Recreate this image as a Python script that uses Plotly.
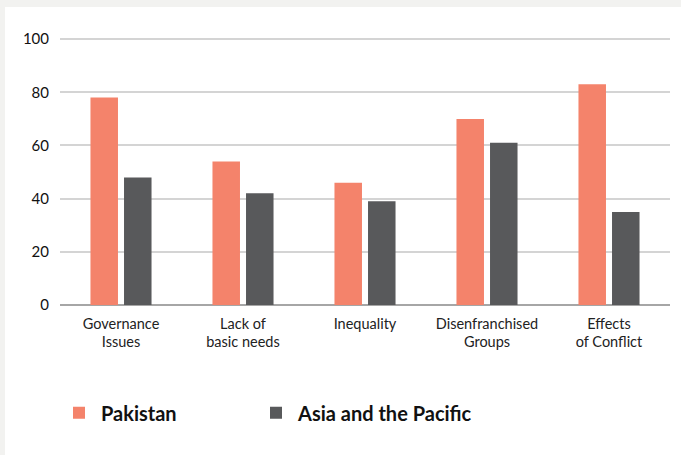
import plotly.graph_objects as go

categories = ["Governance<br>Issues", "Lack of<br>basic needs", "Inequality",
              "Disenfranchised<br>Groups", "Effects<br>of Conflict"]
pakistan = [78, 54, 46, 70, 83]
asia_pacific = [48, 42, 39, 61, 35]
y_ticks = [0, 20, 40, 60, 80, 100]

W, H = 681, 455
L, R, T, B = 60, 11, 37, 150
pw, ph = W - L - R, H - T - B

legend_font = dict(size=20, color="#111111", family="Lato, Noto Sans, sans-serif", weight="bold")

fig = go.Figure()
fig.add_trace(go.Bar(name="Pakistan", x=categories, y=pakistan, legend="legend",
                     marker=dict(color="#f4836b", line=dict(width=0))))
fig.add_trace(go.Bar(name="Asia and the Pacific", x=categories, y=asia_pacific, legend="legend2",
                     marker=dict(color="#58595b", line=dict(width=0))))

# light grey frame strips (top and left)
fig.add_shape(type="rect", xref="paper", yref="paper", layer="below",
              x0=-L / pw, x1=(W - L) / pw, y0=(ph + T - 7) / ph, y1=(ph + T) / ph,
              fillcolor="#f2f2f0", line=dict(width=0))
fig.add_shape(type="rect", xref="paper", yref="paper", layer="below",
              x0=-L / pw, x1=(-L + 5) / pw, y0=-B / ph, y1=(ph + T) / ph,
              fillcolor="#f2f2f0", line=dict(width=0))

leg_common = dict(orientation="h", xanchor="left", y=-0.4025, yanchor="middle",
                  font=legend_font, bgcolor="rgba(0,0,0,0)", itemwidth=34,
                  itemclick=False, itemdoubleclick=False)

fig.update_layout(
    width=W, height=H,
    margin=dict(l=L, r=R, t=T, b=B, pad=0),
    paper_bgcolor="white", plot_bgcolor="white",
    barmode="group", bargap=0.45, bargroupgap=0.18,
    font=dict(family="Lato, Noto Sans, sans-serif", size=14.5, color="#222222"),
    xaxis=dict(showgrid=False, showline=False, ticks="", tickfont=dict(size=14.5, color="#222222"),
               ticklabelstandoff=8, fixedrange=True),
    yaxis=dict(range=[0, 100.8], tickvals=y_ticks, showgrid=True, gridcolor="#d4d4d4", gridwidth=2,
               zeroline=True, zerolinecolor="#a6a6a6", zerolinewidth=2,
               tickfont=dict(size=15, color="#111111"), ticks="", ticklabelstandoff=10,
               fixedrange=True),
    legend=dict(x=-3 / pw, **leg_common),
    legend2=dict(x=(194) / pw, **leg_common),
    showlegend=True,
)

fig.write_html("out.html", config={"displayModeBar": False},
               post_script="document.body.style.margin='0';")
